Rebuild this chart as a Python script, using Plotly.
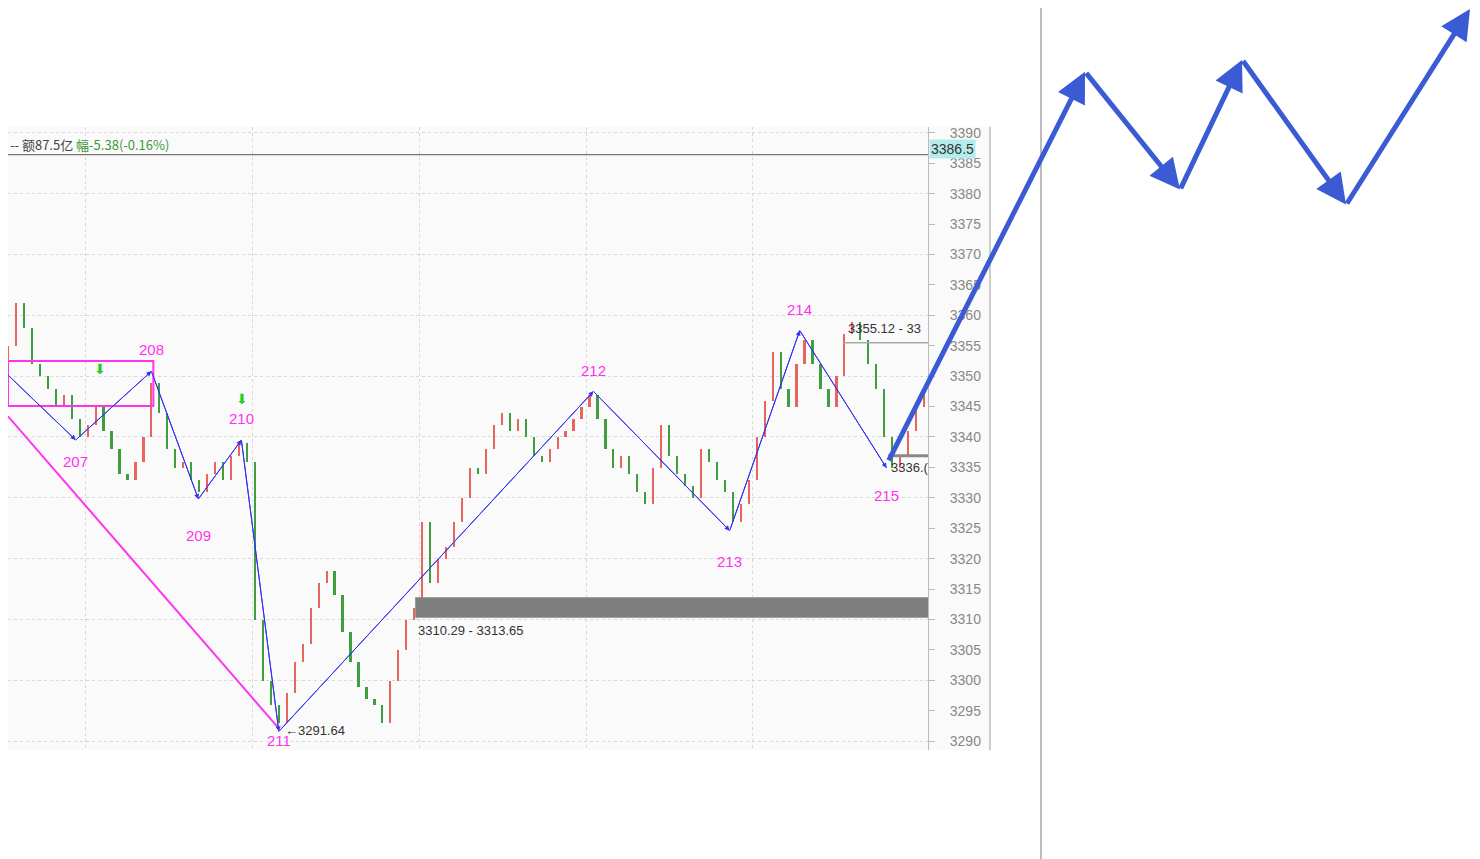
import plotly.graph_objects as go

W, H = 1480, 859
OFF = 8  # page body margin in the browser

# closes per bar (bar index 0..115)
closes = [3355, 3362, 3358, 3352, 3350, 3348, 3345, 3347, 3343, 3340,
          3342, 3345, 3341, 3338, 3334, 3333, 3336, 3340, 3349, 3344,
          3338, 3335, 3336, 3333, 3331, 3334, 3336, 3333, 3337, 3339,
          3336, 3310, 3300, 3296, 3293, 3298, 3303, 3306, 3312, 3316,
          3318, 3314, 3308, 3303, 3299, 3297, 3296, 3293, 3300, 3305,
          3310, 3312, 3326, 3316, 3320, 3322, 3326, 3330, 3335, 3334,
          3338, 3342, 3344, 3341, 3343, 3340, 3337, 3336, 3338, 3340,
          3341, 3343, 3345, 3347, 3343, 3338, 3335, 3337, 3334, 3331,
          3329, 3335, 3342, 3337, 3334, 3332, 3330, 3338, 3336, 3333,
          3331, 3326, 3329, 3333, 3340, 3346, 3354, 3348, 3345, 3352,
          3356, 3352, 3348, 3345, 3350, 3357, 3359, 3356, 3352, 3348,
          3340, 3335, 3337, 3341, 3345, 3348]
opens = [3351] + closes[:-1]

# zigzag pivots
zz_labels = ["", "207", "208", "209", "210", "211", "212", "213", "214", "215"]
zz_x = [0, 9, 18.5, 24.4, 29.8, 34.5, 74, 91.1, 99.9, 110.8]
zz_y = [3350.8, 3339.5, 3350.8, 3329.8, 3339.5, 3291.6, 3347.5, 3324.6, 3357.5, 3334.9]
lbl_dy = [0, -3.5, 3.5, -6, 3.5, -1.5, 3.5, -5, 3.5, -4.5]

pxw = 8.0  # pixels per bar
plot_r = 928
ytop, ybot = 3391.0, 3288.5


def px_x(p):
    return p / pxw


def pap_x(p):
    return (p - OFF) / W


def pap_y(p):
    return 1 - (p - OFF) / H


xmin = px_x(OFF) - 0.5
xmax = px_x(plot_r)
y0p, y1p = pap_y(750), pap_y(125)

fig = go.Figure()
for up, col in ((True, "#e8645f"), (False, "#3f9f3f")):
    idx = [i for i in range(len(closes)) if (closes[i] >= opens[i]) == up]
    fig.add_trace(go.Bar(
        x=[i + 0.5 for i in idx],
        base=[min(opens[i], closes[i]) for i in idx],
        y=[max(abs(closes[i] - opens[i]), 0.4) for i in idx],
        width=0.28, marker=dict(color=col, line=dict(width=0)),
        showlegend=False, hoverinfo="skip"))

# zigzag thin blue line
fig.add_trace(go.Scatter(x=zz_x, y=zz_y, mode="lines",
                         line=dict(color="#3333ee", width=1), showlegend=False, hoverinfo="skip"))

# magenta diagonal
fig.add_trace(go.Scatter(x=[xmin, zz_x[5]], y=[3343.4, 3292.1], mode="lines",
                         line=dict(color="#ff33ee", width=2), showlegend=False, hoverinfo="skip"))

shapes = []
shapes.append(dict(type="rect", x0=xmin, x1=px_x(150), y0=3345.1, y1=3352.5,
                   line=dict(color="#ff33ee", width=2)))
shapes.append(dict(type="rect", x0=px_x(413), x1=xmax, y0=3310.29, y1=3313.65,
                   line=dict(width=0), fillcolor="#7f7f7f"))
shapes.append(dict(type="line", x0=px_x(843), x1=xmax, y0=3355.5, y1=3355.5,
                   line=dict(color="#aaaaaa", width=1.5)))
shapes.append(dict(type="line", x0=px_x(888), x1=xmax, y0=3336.9, y1=3336.9,
                   line=dict(color="#888888", width=3)))
shapes.append(dict(type="line", x0=xmin, x1=xmax, y0=3386.4, y1=3386.4,
                   line=dict(color="#555555", width=1)))
shapes.append(dict(type="rect", xref="paper", yref="paper", x0=pap_x(plot_r), x1=pap_x(990),
                   y0=y0p, y1=y1p, line=dict(width=0), fillcolor="#fafafa", layer="below"))
shapes.append(dict(type="line", xref="paper", yref="paper", x0=pap_x(990), x1=pap_x(990),
                   y0=y0p, y1=y1p, line=dict(color="#cccccc", width=2)))
shapes.append(dict(type="line", xref="paper", yref="paper", x0=pap_x(1041), x1=pap_x(1041),
                   y0=0, y1=pap_y(0), line=dict(color="#bbbbbb", width=2)))
fig.update_layout(shapes=shapes)

anns = []
for i in range(1, len(zz_x)):
    anns.append(dict(x=zz_x[i], y=zz_y[i], ax=zz_x[i - 1], ay=zz_y[i - 1],
                     xref="x", yref="y", axref="x", ayref="y", text="", showarrow=True,
                     arrowhead=2, arrowsize=1, arrowwidth=1, arrowcolor="#3333ee"))
    anns.append(dict(x=zz_x[i], y=zz_y[i] + lbl_dy[i], text=zz_labels[i], showarrow=False,
                     font=dict(color="#ff33ee", size=15, family="Liberation Sans")))

small = dict(family="Liberation Sans", size=13, color="#333333")
anns += [
    dict(x=zz_x[5] + 0.5, y=3291.8, text="←3291.64", showarrow=False, xanchor="left", font=small),
    dict(x=px_x(414), y=3308.2, text="3310.29 - 3313.65", showarrow=False, xanchor="left", font=small),
    dict(x=px_x(846), y=3357.8, text="3355.12 - 33", showarrow=False, xanchor="left", font=small),
    dict(x=px_x(889), y=3335.0, text="3336.(", showarrow=False, xanchor="left", font=small),
    dict(x=px_x(96), y=3351.2, text="⬇", showarrow=False, font=dict(color="#22cc22", size=14)),
    dict(x=px_x(239), y=3346.3, text="⬇", showarrow=False, font=dict(color="#22cc22", size=14)),
    dict(xref="paper", yref="paper", x=0, y=pap_y(131), xanchor="left", showarrow=False,
         text="-- 额87.5亿 <span style='color:#3a9a3a'>幅-5.38(-0.16%)</span>",
         font=dict(family="Noto Sans CJK SC", size=13, color="#444444")),
    dict(xref="paper", yref="y", x=pap_x(929), y=3387.3, xanchor="left", showarrow=False,
         text="3386.5", bgcolor="#b4ecec", font=dict(family="Liberation Sans", size=14, color="#333333"),
         borderpad=1),
]

# big blue zigzag arrows (screen pixels)
big_pts = [(888, 460), (1085, 70), (1180, 188), (1242, 58), (1346, 203), (1470, 3)]
for (xa, ya), (xb, yb) in zip(big_pts[:-1], big_pts[1:]):
    anns.append(dict(xref="paper", yref="paper", x=pap_x(xb), y=pap_y(yb),
                     ax=xa - xb, ay=ya - yb, text="", showarrow=True,
                     arrowhead=2, arrowsize=1.2, arrowwidth=5, arrowcolor="#3a5bd4"))
fig.update_layout(annotations=anns)

fig.update_layout(
    width=W, height=H, margin=dict(l=0, r=0, t=0, b=0), bargap=0,
    paper_bgcolor="white", plot_bgcolor="#fafafa",
    xaxis=dict(domain=[0, pap_x(plot_r)], range=[xmin, xmax],
               showticklabels=False, ticks="", zeroline=False,
               tickvals=[px_x(v) for v in (82, 250, 417, 585, 752)],
               showgrid=True, gridcolor="#d8d8d8", griddash="dot"),
    yaxis=dict(domain=[y0p, y1p], range=[ybot, ytop], side="right", dtick=5,
               showgrid=False, ticks="outside", ticklen=6, tickcolor="#bbbbbb",
               ticklabelstandoff=12,
               showline=True, linecolor="#bbbbbb", zeroline=False,
               tickfont=dict(family="Liberation Sans", size=14, color="#888888")),
    yaxis2=dict(overlaying="y", range=[ybot, ytop], dtick=10, showgrid=True,
                gridcolor="#d8d8d8", griddash="dot", showticklabels=False, zeroline=False),
)
fig.add_trace(go.Scatter(x=[None], y=[None], yaxis="y2", showlegend=False))

fig.write_html("out.html")
